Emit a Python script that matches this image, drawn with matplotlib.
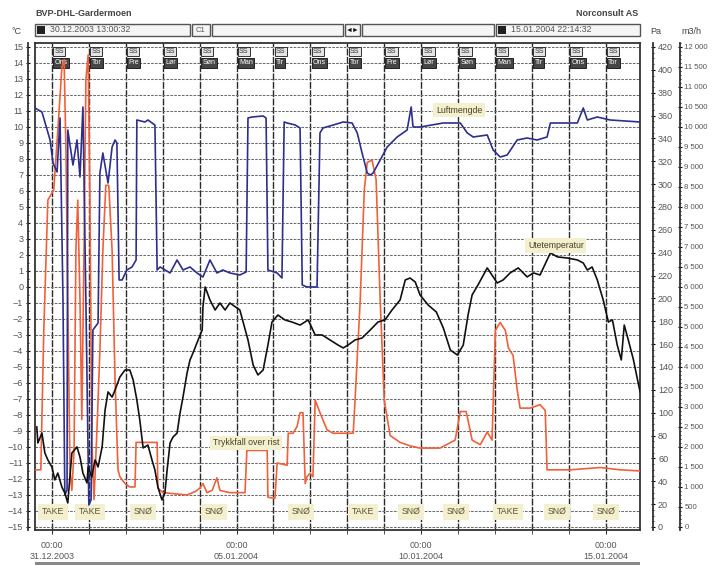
import matplotlib
matplotlib.use('Agg')
import matplotlib.pyplot as plt
from matplotlib.patches import Rectangle
from matplotlib.ticker import MultipleLocator, FuncFormatter

plt.rcParams['font.family'] = ['Liberation Sans', 'DejaVu Sans']

W, H = 712, 565

# time axis: days from 31.12.2003 00:00
t_start = -(24 - (13 + 0/60 + 32/3600)) / 24     # 30.12.2003 13:00:32
t_end = 15 + (22 + 14/60 + 32/3600) / 24          # 15.01.2004 22:14:32
date_ticks = [0, 5, 10, 15]
date_labels = ['00:00\n31.12.2003', '00:00\n05.01.2004', '00:00\n10.01.2004', '00:00\n15.01.2004']
day_names = ['Ons', 'Tor', 'Fre', 'Lør', 'Søn', 'Man', 'Tir', 'Ons',
             'Tor', 'Fre', 'Lør', 'Søn', 'Man', 'Tir', 'Ons', 'Tor']

# Luftmengde (m3/h)
luft_t = [-0.46, -0.27, -0.05, 0.03, 0.14, 0.22, 0.30, 0.35, 0.41, 0.43, 0.57, 0.68, 0.76, 0.84,
          0.92, 1.00, 1.06, 1.11, 1.25, 1.30, 1.38, 1.52, 1.63, 1.71, 1.76, 1.82, 1.90, 2.03,
          2.17, 2.28, 2.30, 2.52, 2.60, 2.79, 2.85, 2.93, 3.20, 3.39, 3.55, 3.74, 3.93, 4.09,
          4.28, 4.47, 4.63, 4.82, 5.09, 5.26, 5.31, 5.42, 5.72, 5.80, 5.85, 6.10, 6.23, 6.29,
          6.37, 6.59, 6.72, 6.78, 6.91, 7.18, 7.26, 7.34, 7.62, 7.89, 8.13, 8.27, 8.40, 8.54,
          8.62, 8.70, 8.89, 9.08, 9.35, 9.62, 9.73, 9.78, 9.97, 10.60, 11.06, 11.25, 11.41, 11.79,
          11.95, 12.14, 12.33, 12.60, 12.87, 13.14, 13.41, 13.50, 13.77, 14.23, 14.39, 14.50,
          14.77, 15.12, 15.53, 15.93]
luft_v = [10475, 10375, 9675, 9100, 8875, 10225, 5675, 800, 925, 9925, 9050, 9675, 8750, 10500,
          5675, 550, 675, 4925, 5100, 8850, 9350, 8600, 9500, 9675, 9600, 6175, 6175, 6425,
          6500, 6675, 10175, 10125, 10175, 10050, 6425, 6500, 6350, 6675, 6425, 6500, 6350, 6250,
          6675, 6350, 6425, 6350, 6300, 6375, 10225, 10250, 10275, 10225, 6425, 6350, 6225, 10125,
          10100, 10050, 9975, 6050, 6000, 6000, 9850, 9975, 10050, 10125, 10100, 9850, 9350, 8850,
          8800, 8850, 9175, 9500, 9750, 9925, 10500, 10000, 10000, 10100, 10100, 9850, 9750, 9800,
          9425, 9250, 9300, 9675, 9725, 9675, 9750, 10100, 10100, 10100, 10475, 10175,
          10250, 10175, 10150, 10125]

# Trykkfall over rist (Pa)
trykk_t = [-0.46, -0.30, -0.22, -0.11, 0.05, 0.16, 0.27, 0.33, 0.38, 0.43, 0.49, 0.54, 0.60, 0.65,
           0.70, 0.76, 0.81, 0.87, 0.92, 0.98, 1.03, 1.08, 1.14, 1.22, 1.30, 1.38, 1.46, 1.54,
           1.63, 1.71, 1.79, 1.84, 1.98, 2.11, 2.25, 2.28, 2.85, 2.87, 3.01, 3.66, 3.88, 4.01,
           4.09, 4.20, 4.34, 4.47, 4.55, 4.82, 5.23, 5.28, 5.83, 5.85, 6.04, 6.10, 6.37, 6.40,
           6.53, 6.64, 6.72, 6.80, 6.86, 6.91, 6.99, 7.07, 7.13, 7.26, 7.45, 7.62, 7.99, 8.16,
           8.21, 8.35, 8.46, 8.54, 8.67, 8.78, 8.89, 9.00, 9.16, 9.43, 9.70, 9.97, 10.51, 10.92,
           11.06, 11.22, 11.38, 11.60, 11.79, 11.92, 12.01, 12.14, 12.28, 12.36, 12.49, 12.60,
           12.68, 12.95, 13.22, 13.36, 13.41, 14.04, 14.85, 15.39, 15.93]
trykk_v = [50, 50, 172, 286, 295, 347, 402, 409, 330, 199, 50, 32, 67, 242,
           286, 199, 94, 242, 391, 413, 286, 76, 24, 85, 155, 242, 299, 299,
           242, 129, 50, 44, 38, 35, 35, 74, 74, 34, 30, 28, 31, 34,
           38, 30, 32, 43, 32, 30, 30, 67, 67, 26, 25, 56, 54, 82,
           82, 88, 100, 100, 38, 44, 47, 44, 111, 100, 85, 82, 82, 82,
           111, 199, 295, 319, 321, 304, 199, 111, 80, 74, 71, 69, 69, 76,
           101, 101, 76, 72, 83, 76, 172, 179, 172, 157, 150, 120,
           104, 104, 107, 102, 50, 50, 52, 50, 49]

# Utetemperatur (°C)
temp_t = [-0.41, -0.38, -0.27, -0.19, -0.11, 0.00, 0.08, 0.16, 0.27, 0.35, 0.43, 0.54, 0.68, 0.76,
          0.84, 0.95, 0.98, 1.08, 1.17, 1.25, 1.36, 1.44, 1.52, 1.63, 1.71, 1.84, 1.98, 2.11,
          2.20, 2.30, 2.38, 2.47, 2.60, 2.71, 2.79, 2.87, 2.98, 3.06, 3.12, 3.20, 3.28, 3.39,
          3.47, 3.55, 3.66, 3.74, 3.82, 3.96, 4.07, 4.09, 4.15, 4.28, 4.42, 4.55, 4.69, 4.82,
          5.09, 5.31, 5.45, 5.58, 5.72, 5.85, 5.96, 6.12, 6.31, 6.50, 6.72, 6.94, 7.13, 7.32,
          7.53, 7.75, 7.89, 8.02, 8.21, 8.40, 8.62, 8.83, 9.02, 9.21, 9.43, 9.57, 9.70, 9.84,
          9.97, 10.19, 10.41, 10.60, 10.79, 10.98, 11.14, 11.27, 11.38, 11.54, 11.79, 12.06,
          12.22, 12.41, 12.63, 12.87, 13.04, 13.22, 13.41, 13.50, 13.69, 13.96, 14.23, 14.39,
          14.50, 14.63, 14.77, 14.93, 15.07, 15.18, 15.31, 15.42, 15.50, 15.61, 15.75, 15.85, 15.93]
temp_v = [-8.75, -9.75, -9.13, -10.38, -10.81, -11.25, -12.06, -11.63, -12.5, -12.88, -13.5, -10.38,
          -10.0, -10.63, -11.63, -12.25, -11.25, -11.88, -10.81, -11.25, -10.0, -7.69, -6.56,
          -6.88, -6.44, -5.63, -5.19, -5.19, -5.81, -7.06, -8.31, -10.06, -9.88, -10.81, -11.44,
          -12.5, -13.31, -12.88, -11.44, -9.75, -9.38, -9.13, -7.88, -6.88, -5.38, -4.56, -4.13,
          -3.31, -2.69, -1.25, 0.0, -0.81, -1.44, -1.0, -1.44, -1.0, -1.44, -3.31, -4.88, -5.5,
          -5.19, -3.63, -2.19, -1.75, -2.06, -2.19, -2.38, -2.06, -3.0, -3.0, -3.31, -3.63, -3.81,
          -3.63, -3.31, -3.19, -2.69, -2.19, -2.06, -1.44, -0.81, 0.44, 0.56, 0.31, -0.5, -1.13,
          -1.56, -2.56, -3.94, -4.25, -3.63, -1.75, -0.5, 0.13, 1.19, 0.25, 0.44, 0.88, 1.19,
          0.63, 0.88, 0.75, 1.69, 2.13, 1.88, 1.81, 1.69, 1.5, 1.06, 1.25, 0.44, -0.81, -2.19,
          -2.06, -3.63, -4.56, -2.38, -3.31, -4.56, -5.69, -6.56]

# bottom band: operating state
state_t = [0.03, 1.03, 2.46, 4.4, 6.75, 8.43, 9.73, 10.95, 12.35, 13.68, 15.0]
state_txt = ['TAKE', 'TAKE', 'SNØ', 'SNØ', 'SNØ', 'TAKE', 'SNØ', 'SNØ', 'TAKE', 'SNØ', 'SNØ']

c_lo, c_hi = -15.19, 15.25
txt_col = '#555555'
fs = 6.5


def fp(x, y):
    # pixel -> figure fraction
    return x / W, 1 - y / H


fig = plt.figure(figsize=(W / 100, H / 100), dpi=100)
fig.patch.set_facecolor('white')
x0, y0 = fp(35, 530)
ax = fig.add_axes([x0, y0, 605 / W, 487 / H])
ax.set_xlim(t_start, t_end)
ax.set_ylim(c_lo, c_hi)
for s in ax.spines.values():
    s.set_color('#333333')
    s.set_linewidth(1.3)

ax.set_yticks(range(-15, 16))
ax.tick_params(axis='y', length=0, labelleft=False)
ax.set_xticks(date_ticks)
ax.set_xticklabels(date_labels)
ax.xaxis.set_minor_locator(MultipleLocator(1))
ax.tick_params(axis='x', which='both', direction='out', length=3, color='#333333',
               labelsize=fs, labelcolor=txt_col, pad=5)
ax.grid(axis='y', color='#6a6a6a', lw=0.75, ls=(0, (2.5, 1.2)))
ax.grid(axis='x', which='both', color='#2a2a2a', lw=1.0, ls=(0, (5, 1)))

# day flags at top
for k, name in enumerate(day_names):
    ax.text(k + 0.07, 14.72, 'SS', fontsize=5, color='#333333', ha='left', va='center',
            bbox=dict(boxstyle='square,pad=0.2', fc='#e4e4e4', ec='#333333', lw=0.7))
    ax.text(k + 0.07, 14.0, name, fontsize=5, color='white', ha='left', va='center',
            bbox=dict(boxstyle='square,pad=0.2', fc='#464646', ec='#222222', lw=0.7))

# state band at bottom
for t, s in zip(state_t, state_txt):
    ax.text(t, -14.05, s, fontsize=6.3, color='#555533', ha='center', va='center',
            bbox=dict(boxstyle='square,pad=0.4', fc='#f4f0cf', ec='none'))

# Trykkfall (Pa)
axp = ax.twinx()
axp.set_ylim((c_lo + 15) * 14, (c_hi + 15) * 14)
axp.plot(trykk_t, trykk_v, color='#f1603a', lw=1.2)
axp.spines['right'].set_position(('outward', 9.5))
axp.yaxis.set_major_locator(MultipleLocator(20))
axp.yaxis.set_minor_locator(MultipleLocator(5))
for k in ['top', 'bottom', 'left']:
    axp.spines[k].set_visible(False)
axp.spines['right'].set_linewidth(1.3)
axp.spines['right'].set_color('#333333')
axp.tick_params(axis='y', which='major', length=3, direction='inout', labelsize=fs,
                labelcolor=txt_col, pad=2)
axp.tick_params(axis='y', which='minor', length=2, direction='inout')

# Luftmengde (m3/h)
axm = ax.twinx()
axm.set_ylim((c_lo + 15) * 400, (c_hi + 15) * 400)
axm.plot(luft_t, luft_v, color='#2d2f8e', lw=1.2)
axm.spines['right'].set_position(('outward', 29))
axm.yaxis.set_major_locator(MultipleLocator(500))
axm.yaxis.set_minor_locator(MultipleLocator(100))
axm.yaxis.set_major_formatter(FuncFormatter(lambda v, p: f'{int(v):,}'.replace(',', ' ')))
for k in ['top', 'bottom', 'left']:
    axm.spines[k].set_visible(False)
axm.spines['right'].set_linewidth(1.3)
axm.spines['right'].set_color('#333333')
axm.tick_params(axis='y', which='major', length=3, direction='inout', labelsize=5.6,
                labelcolor=txt_col, pad=1.5)
axm.tick_params(axis='y', which='minor', length=2, direction='inout')

# Utetemperatur (°C), scale on the left
axc = ax.twinx()
axc.set_ylim(c_lo, c_hi)
axc.plot(temp_t, temp_v, color='#111111', lw=1.2)
axc.yaxis.set_ticks_position('left')
axc.spines['left'].set_position(('outward', 5))
for k in ['top', 'bottom', 'right']:
    axc.spines[k].set_visible(False)
axc.spines['left'].set_linewidth(1.3)
axc.spines['left'].set_color('#333333')
axc.set_yticks(range(-15, 16))
axc.yaxis.set_minor_locator(MultipleLocator(0.5))
axc.tick_params(axis='y', which='major', length=3, direction='inout', labelsize=fs,
                labelcolor=txt_col, pad=2)
axc.tick_params(axis='y', which='minor', length=2, direction='inout')

# series labels
lab = dict(fontsize=6.3, color='#444422', va='center',
           bbox=dict(boxstyle='square,pad=0.3', fc='#f4f0cf', ec='none'))
axc.text(10.4, 11.05, 'Luftmengde', ha='left', **lab)
axc.text(13.65, 2.6, 'Utetemperatur', ha='center', **lab)
axc.text(5.25, -9.75, 'Trykkfall over rist', ha='center', **lab)

# header
fig.text(*fp(35, 14), 'BVP-DHL-Gardermoen', fontsize=6.5, color='#444444',
         weight='bold', va='center', ha='left')
fig.text(*fp(638, 14), 'Norconsult AS', fontsize=6.5, color='#444444',
         weight='bold', va='center', ha='right')
boxes = [(35, 190), (192, 210), (212, 343), (345, 360), (362, 494), (496, 640)]
for a, b in boxes:
    bx, by = fp(a, 36)
    fig.patches.append(Rectangle((bx, by), (b - a) / W, 12 / H, transform=fig.transFigure,
                                 fc='#f5f5f5', ec='#555555', lw=1.0))
for a in (37, 498):
    bx, by = fp(a, 34)
    fig.patches.append(Rectangle((bx, by), 8 / W, 8 / H, transform=fig.transFigure,
                                 fc='#222222', ec='none'))
fig.text(*fp(50, 30), '30.12.2003 13:00:32', fontsize=6.3, color='#555555', va='center')
fig.text(*fp(511, 30), '15.01.2004 22:14:32', fontsize=6.3, color='#555555', va='center')
fig.text(*fp(201, 30), 'C1', fontsize=5.5, color='#555555', va='center', ha='center')
fig.text(*fp(352.5, 30), '◄►', fontsize=5, color='#111111', va='center', ha='center')
fig.text(*fp(22, 31), '°C', fontsize=6.5, color='#444444', va='center', ha='right')
fig.text(*fp(650, 31), 'Pa', fontsize=6.5, color='#444444', va='center', ha='left')
fig.text(*fp(681, 31), 'm3/h', fontsize=6.5, color='#444444', va='center', ha='left')

# scroll bar at the bottom
bx, by = fp(35, 565)
fig.patches.append(Rectangle((bx, by), 605 / W, 3 / H, transform=fig.transFigure,
                             fc='#888888', ec='none'))

fig.savefig('out.png', dpi=100, facecolor='white')
